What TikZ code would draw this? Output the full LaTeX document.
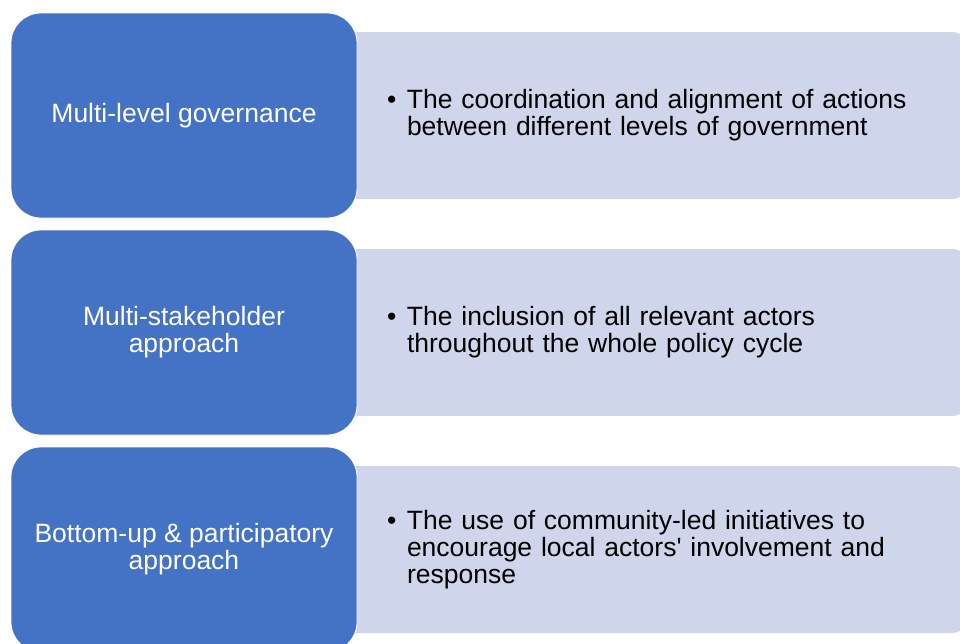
\documentclass[tikz,border=0pt]{standalone}
\usepackage{fontspec}
\setmainfont{Liberation Sans}
\definecolor{headblue}{HTML}{4472C4}
\definecolor{desclav}{HTML}{CFD5EA}
% bullet and hanging indent for the description lines
\newcommand{\bul}{\hspace*{-3pt}\makebox[20pt][l]{\textbullet}}
\newcommand{\ind}{\hspace*{17pt}}

\begin{document}
\begin{tikzpicture}[x=1pt, y=-1pt,
  headbox/.style={fill=headblue, draw=white, line width=0.8pt, rounded corners=30pt,
    minimum width=346pt, minimum height=205pt, inner sep=0pt, outer sep=0pt,
    text=white, align=center, font=\fontsize{26.5}{27}\selectfont},
  descbox/.style={fill=desclav, rounded corners=16pt, minimum height=167pt,
    text width=528pt, inner xsep=50pt, inner ysep=0pt, outer sep=0pt,
    align=left, font=\fontsize{26.5}{27}\selectfont}]
  \useasboundingbox (0,0) rectangle (960,643);
  \clip (0,0) rectangle (960,643);
  % rows: heading box on the left, description band behind it
  \foreach \i/\y/\head/\body in {
      1/13/{Multi-level governance}/{\bul The coordination and alignment of actions\\\ind between different levels of government},
      2/230/{Multi-stakeholder\\approach}/{\bul The inclusion of all relevant actors\\\ind throughout the whole policy cycle},
      3/447/{Bottom-up \& participatory\\approach}/{\bul The use of community-led initiatives to\\\ind encourage local actors\textquotesingle\ involvement and\\\ind response}} {
    \node[descbox] (desc\i) at (654,\y+102.5) {\body};
    \node[headbox] (head\i) at (184,\y+102.5) {\head};
  }
\end{tikzpicture}
\end{document}
